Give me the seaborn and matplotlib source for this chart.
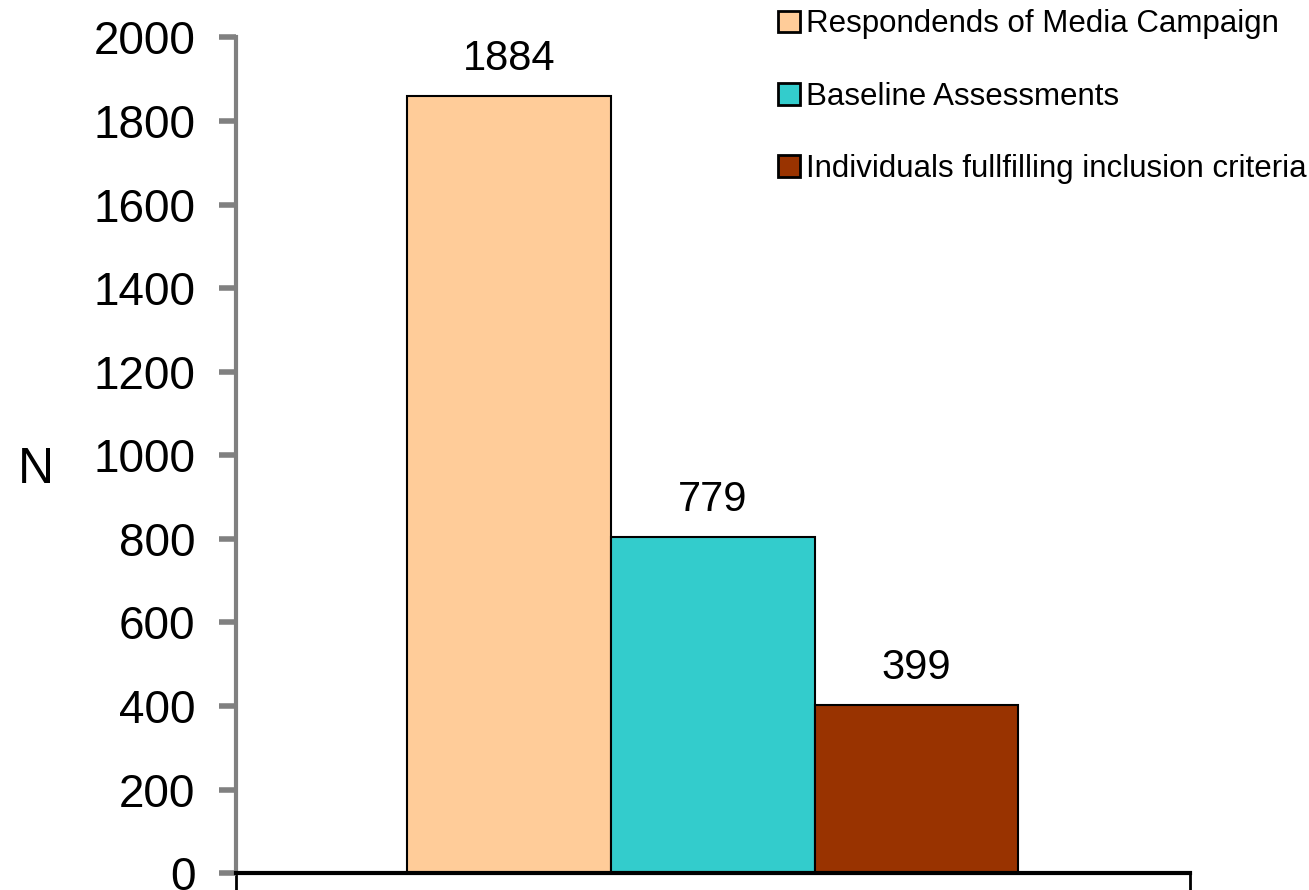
import pandas as pd
import matplotlib
matplotlib.use("Agg")
import matplotlib.pyplot as plt
import seaborn as sns

# DATA
series = ["Respondends of Media Campaign", "Baseline Assessments",
          "Individuals fullfilling inclusion criteria"]
bar_heights = [1860, 805, 402]          # bar tops as drawn in the picture
value_labels = ["1884", "779", "399"]   # numbers printed above bars
colors = ["#FFCC99", "#33CCCC", "#993300"]

df = pd.DataFrame({"group": [""] * 3, "series": series, "n": bar_heights})

# STYLING
sns.set_style("white")
plt.rcParams["font.family"] = ["Liberation Sans", "DejaVu Sans"]
plt.rcParams["text.color"] = "black"

fig = plt.figure(figsize=(13.09, 8.9), dpi=100)
ax = fig.add_axes([0.180, 0.019, 0.729, 0.939])

sns.barplot(data=df, x="group", y="n", hue="series", hue_order=series,
            palette=colors, saturation=1, width=0.64, edgecolor="black",
            linewidth=1.5, legend=False, ax=ax)

for patch, lab in zip(ax.patches, value_labels):
    ax.text(patch.get_x() + patch.get_width() / 2, patch.get_height() + 40, lab,
            ha="center", va="bottom", fontsize=30, color="black")

ax.set_xlim(-0.5, 0.5)
ax.set_ylim(0, 2000)
ax.set_yticks(range(0, 2001, 200))
ax.tick_params(axis="y", labelsize=33, length=12, width=4, color="#808080",
               labelcolor="black", left=True, pad=17)
ax.set_xticks([-0.5, 0.5])
ax.set_xticklabels(["", ""])
ax.tick_params(axis="x", bottom=True, length=12, width=2, color="black")
ax.set_xlabel("")
ax.set_ylabel("")
fig.text(36 / 1309, 1 - 470 / 890, "N", fontsize=36, ha="center", va="center")

for s in ["top", "right"]:
    ax.spines[s].set_visible(False)
ax.spines["left"].set_color("#808080")
ax.spines["left"].set_linewidth(3)
ax.spines["bottom"].set_color("black")
ax.spines["bottom"].set_linewidth(3)

# legend
handles = [plt.Rectangle((0, 0), 1, 1, facecolor=c, edgecolor="black", linewidth=2)
           for c in colors]
fig.legend(handles, series, loc="upper left", bbox_to_anchor=(0.573, 1.021),
           frameon=False, handlelength=0.7, handleheight=0.7,
           handletextpad=0.2, labelspacing=1.35,
           prop={"size": 22.5})

fig.savefig("out.png", dpi=100)
